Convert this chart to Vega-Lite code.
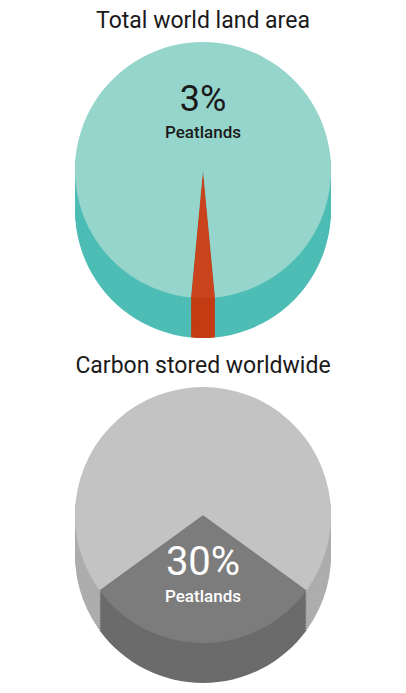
{
  "$schema": "https://vega.github.io/schema/vega-lite/v6.json",
  "padding": {"top": 10, "left": 0, "right": 0, "bottom": 0},
  "background": "white",
  "spacing": 14,
  "config": {
    "view": {"stroke": null},
    "font": "Roboto",
    "title": {"font": "Roboto", "fontSize": 23, "fontWeight": "normal", "color": "#1a1a1a", "offset": 6, "anchor": "middle"}
  },
  "vconcat": [
    {
      "title": "Total world land area",
      "width": 406,
      "height": 302,
      "data": {"values": [
        {"category": "Peatlands", "share": 0.03, "rank": 1},
        {"category": "Other land", "share": 0.97, "rank": 2}
      ]},
      "layer": [
        {
          "encoding": {
            "theta": {"field": "share", "type": "quantitative", "stack": true, "scale": {"range": [3.0473, 9.3305]}},
            "order": {"field": "rank", "type": "ordinal"},
            "color": {"condition": {"test": "datum.category === 'Peatlands'", "value": "#c23b12"}, "value": "#4dbdb5"}
          },
          "layer": [
            {"mark": {"type": "arc", "radius": 128, "yOffset": 20}},
            {"mark": {"type": "arc", "radius": 128, "yOffset": 17.5}},
            {"mark": {"type": "arc", "radius": 128, "yOffset": 15}},
            {"mark": {"type": "arc", "radius": 128, "yOffset": 12.5}},
            {"mark": {"type": "arc", "radius": 128, "yOffset": 10}},
            {"mark": {"type": "arc", "radius": 128, "yOffset": 7.5}},
            {"mark": {"type": "arc", "radius": 128, "yOffset": 5}},
            {"mark": {"type": "arc", "radius": 128, "yOffset": 2.5}},
            {"mark": {"type": "arc", "radius": 128, "yOffset": 0}},
            {"mark": {"type": "arc", "radius": 128, "yOffset": -2.5}},
            {"mark": {"type": "arc", "radius": 128, "yOffset": -5}},
            {"mark": {"type": "arc", "radius": 128, "yOffset": -7.5}},
            {"mark": {"type": "arc", "radius": 128, "yOffset": -10}},
            {"mark": {"type": "arc", "radius": 128, "yOffset": -12.5}},
            {"mark": {"type": "arc", "radius": 128, "yOffset": -15}},
            {"mark": {"type": "arc", "radius": 128, "yOffset": -17.5}},
            {
              "mark": {"type": "arc", "radius": 128, "yOffset": -20},
              "encoding": {"color": {"condition": {"test": "datum.category === 'Peatlands'", "value": "#c9441c"}, "value": "#95d5cc"}}
            }
          ]
        },
        {
          "transform": [{"filter": "datum.category === 'Peatlands'"}],
          "mark": {"type": "text", "fontSize": 36, "color": "#1a1a1a", "yOffset": -90},
          "encoding": {"text": {"field": "share", "type": "quantitative", "format": ".0%"}}
        },
        {
          "transform": [{"filter": "datum.category === 'Peatlands'"}],
          "mark": {"type": "text", "fontSize": 17, "fontWeight": 500, "color": "#1a1a1a", "yOffset": -57},
          "encoding": {"text": {"field": "category", "type": "nominal"}}
        }
      ]
    },
    {
      "title": "Carbon stored worldwide",
      "width": 406,
      "height": 302,
      "data": {"values": [
        {"category": "Peatlands", "share": 0.30, "rank": 1},
        {"category": "Other stores", "share": 0.70, "rank": 2}
      ]},
      "layer": [
        {
          "encoding": {
            "theta": {"field": "share", "type": "quantitative", "stack": true, "scale": {"range": [2.1991, 8.4823]}},
            "order": {"field": "rank", "type": "ordinal"},
            "color": {"condition": {"test": "datum.category === 'Peatlands'", "value": "#6b6b6b"}, "value": "#adadad"}
          },
          "layer": [
            {"mark": {"type": "arc", "radius": 128, "yOffset": 20}},
            {"mark": {"type": "arc", "radius": 128, "yOffset": 17.5}},
            {"mark": {"type": "arc", "radius": 128, "yOffset": 15}},
            {"mark": {"type": "arc", "radius": 128, "yOffset": 12.5}},
            {"mark": {"type": "arc", "radius": 128, "yOffset": 10}},
            {"mark": {"type": "arc", "radius": 128, "yOffset": 7.5}},
            {"mark": {"type": "arc", "radius": 128, "yOffset": 5}},
            {"mark": {"type": "arc", "radius": 128, "yOffset": 2.5}},
            {"mark": {"type": "arc", "radius": 128, "yOffset": 0}},
            {"mark": {"type": "arc", "radius": 128, "yOffset": -2.5}},
            {"mark": {"type": "arc", "radius": 128, "yOffset": -5}},
            {"mark": {"type": "arc", "radius": 128, "yOffset": -7.5}},
            {"mark": {"type": "arc", "radius": 128, "yOffset": -10}},
            {"mark": {"type": "arc", "radius": 128, "yOffset": -12.5}},
            {"mark": {"type": "arc", "radius": 128, "yOffset": -15}},
            {"mark": {"type": "arc", "radius": 128, "yOffset": -17.5}},
            {
              "mark": {"type": "arc", "radius": 128, "yOffset": -20},
              "encoding": {"color": {"condition": {"test": "datum.category === 'Peatlands'", "value": "#7c7c7c"}, "value": "#c3c3c3"}}
            }
          ]
        },
        {
          "transform": [{"filter": "datum.category === 'Peatlands'"}],
          "mark": {"type": "text", "fontSize": 40, "color": "white", "yOffset": 28},
          "encoding": {"text": {"field": "share", "type": "quantitative", "format": ".0%"}}
        },
        {
          "transform": [{"filter": "datum.category === 'Peatlands'"}],
          "mark": {"type": "text", "fontSize": 17, "fontWeight": 500, "color": "white", "yOffset": 62},
          "encoding": {"text": {"field": "category", "type": "nominal"}}
        }
      ]
    }
  ]
}
